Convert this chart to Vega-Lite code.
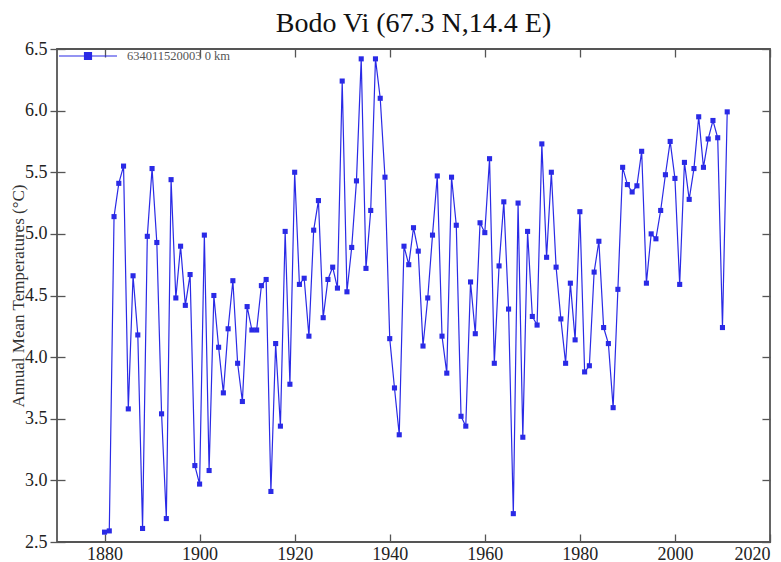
{
  "$schema": "https://vega.github.io/schema/vega-lite/v6.json",
  "width": 713,
  "height": 493,
  "autosize": "none",
  "padding": {"left": 57, "top": 49, "right": 11, "bottom": 20},
  "background": "white",
  "title": {"text": "Bodo Vi (67.3 N,14.4 E)", "font": "Liberation Serif", "fontSize": 28, "fontWeight": "normal", "color": "#111", "offset": -12},
  "config": {
    "view": {"stroke": "#555", "strokeWidth": 1.8},
    "axis": {"labelFont": "Liberation Serif", "titleFont": "Liberation Serif", "labelColor": "#222", "domain": false, "grid": false, "tickColor": "#555", "tickWidth": 1.3, "labelFontSize": 18}
  },
  "data": {"values": [
    {"year":1880,"temp":2.58},{"year":1881,"temp":2.59},{"year":1882,"temp":5.14},{"year":1883,"temp":5.41},{"year":1884,"temp":5.55},
    {"year":1885,"temp":3.58},{"year":1886,"temp":4.66},{"year":1887,"temp":4.18},{"year":1888,"temp":2.61},{"year":1889,"temp":4.98},
    {"year":1890,"temp":5.53},{"year":1891,"temp":4.93},{"year":1892,"temp":3.54},{"year":1893,"temp":2.69},{"year":1894,"temp":5.44},
    {"year":1895,"temp":4.48},{"year":1896,"temp":4.90},{"year":1897,"temp":4.42},{"year":1898,"temp":4.67},{"year":1899,"temp":3.12},
    {"year":1900,"temp":2.97},{"year":1901,"temp":4.99},{"year":1902,"temp":3.08},{"year":1903,"temp":4.50},{"year":1904,"temp":4.08},
    {"year":1905,"temp":3.71},{"year":1906,"temp":4.23},{"year":1907,"temp":4.62},{"year":1908,"temp":3.95},{"year":1909,"temp":3.64},
    {"year":1910,"temp":4.41},{"year":1911,"temp":4.22},{"year":1912,"temp":4.22},{"year":1913,"temp":4.58},{"year":1914,"temp":4.63},
    {"year":1915,"temp":2.91},{"year":1916,"temp":4.11},{"year":1917,"temp":3.44},{"year":1918,"temp":5.02},{"year":1919,"temp":3.78},
    {"year":1920,"temp":5.50},{"year":1921,"temp":4.59},{"year":1922,"temp":4.64},{"year":1923,"temp":4.17},{"year":1924,"temp":5.03},
    {"year":1925,"temp":5.27},{"year":1926,"temp":4.32},{"year":1927,"temp":4.63},{"year":1928,"temp":4.73},{"year":1929,"temp":4.56},
    {"year":1930,"temp":6.24},{"year":1931,"temp":4.53},{"year":1932,"temp":4.89},{"year":1933,"temp":5.43},{"year":1934,"temp":6.42},
    {"year":1935,"temp":4.72},{"year":1936,"temp":5.19},{"year":1937,"temp":6.42},{"year":1938,"temp":6.10},{"year":1939,"temp":5.46},
    {"year":1940,"temp":4.15},{"year":1941,"temp":3.75},{"year":1942,"temp":3.37},{"year":1943,"temp":4.90},{"year":1944,"temp":4.75},
    {"year":1945,"temp":5.05},{"year":1946,"temp":4.86},{"year":1947,"temp":4.09},{"year":1948,"temp":4.48},{"year":1949,"temp":4.99},
    {"year":1950,"temp":5.47},{"year":1951,"temp":4.17},{"year":1952,"temp":3.87},{"year":1953,"temp":5.46},{"year":1954,"temp":5.07},
    {"year":1955,"temp":3.52},{"year":1956,"temp":3.44},{"year":1957,"temp":4.61},{"year":1958,"temp":4.19},{"year":1959,"temp":5.09},
    {"year":1960,"temp":5.01},{"year":1961,"temp":5.61},{"year":1962,"temp":3.95},{"year":1963,"temp":4.74},{"year":1964,"temp":5.26},
    {"year":1965,"temp":4.39},{"year":1966,"temp":2.73},{"year":1967,"temp":5.25},{"year":1968,"temp":3.35},{"year":1969,"temp":5.02},
    {"year":1970,"temp":4.33},{"year":1971,"temp":4.26},{"year":1972,"temp":5.73},{"year":1973,"temp":4.81},{"year":1974,"temp":5.50},
    {"year":1975,"temp":4.73},{"year":1976,"temp":4.31},{"year":1977,"temp":3.95},{"year":1978,"temp":4.60},{"year":1979,"temp":4.14},
    {"year":1980,"temp":5.18},{"year":1981,"temp":3.88},{"year":1982,"temp":3.93},{"year":1983,"temp":4.69},{"year":1984,"temp":4.94},
    {"year":1985,"temp":4.24},{"year":1986,"temp":4.11},{"year":1987,"temp":3.59},{"year":1988,"temp":4.55},{"year":1989,"temp":5.54},
    {"year":1990,"temp":5.40},{"year":1991,"temp":5.34},{"year":1992,"temp":5.39},{"year":1993,"temp":5.67},{"year":1994,"temp":4.60},
    {"year":1995,"temp":5.00},{"year":1996,"temp":4.96},{"year":1997,"temp":5.19},{"year":1998,"temp":5.48},{"year":1999,"temp":5.75},
    {"year":2000,"temp":5.45},{"year":2001,"temp":4.59},{"year":2002,"temp":5.58},{"year":2003,"temp":5.28},{"year":2004,"temp":5.53},
    {"year":2005,"temp":5.95},{"year":2006,"temp":5.54},{"year":2007,"temp":5.77},{"year":2008,"temp":5.92},{"year":2009,"temp":5.78},
    {"year":2010,"temp":4.24},{"year":2011,"temp":5.99}
  ]},
  "layer": [
    {
      "mark": {"type": "line", "strokeWidth": 1.2, "point": {"shape": "square", "filled": true, "size": 26, "opacity": 1}},
      "encoding": {
        "x": {"field": "year", "type": "quantitative", "scale": {"domain": [1870, 2020], "nice": false, "zero": false},
              "axis": {"orient": "bottom", "values": [1880, 1900, 1920, 1940, 1960, 1980, 2000, 2020], "format": "d", "title": null, "offset": -8, "tickSize": 8, "labelPadding": 3}},
        "y": {"field": "temp", "type": "quantitative", "scale": {"domain": [2.5, 6.5], "nice": false, "zero": false},
              "axis": {"orient": "left", "values": [2.5, 3, 3.5, 4, 4.5, 5, 5.5, 6, 6.5], "format": ".1f", "title": "Annual Mean Temperatures (°C)", "titleFontSize": 17, "titleFontWeight": "normal", "titleColor": "#333", "titlePadding": -3, "offset": -8, "tickSize": 15, "labelPadding": 3}},
        "color": {"datum": "634011520003 0 km", "type": "nominal", "scale": {"range": ["#2a2ae6"]},
                  "legend": {"orient": "none", "legendX": 1, "legendY": -23, "title": null, "padding": 0,
                             "symbolType": "M-1,0L1,0M-0.12,-0.12L0.12,-0.12L0.12,0.12L-0.12,0.12Z",
                             "symbolSize": 3364, "symbolStrokeWidth": 1.2, "symbolFillColor": "#2a2ae6", "symbolStrokeColor": "#2a2ae6",
                             "labelFont": "Liberation Serif", "labelFontSize": 12.5, "labelColor": "#555", "labelOffset": 9}}
      }
    },
    {
      "mark": {"type": "line", "opacity": 0},
      "encoding": {
        "x": {"field": "year", "type": "quantitative", "scale": {"domain": [1870, 2020], "nice": false, "zero": false},
              "axis": {"orient": "top", "values": [1880, 1900, 1920, 1940, 1960, 1980, 2000, 2020], "labels": false, "title": null, "offset": -8, "tickSize": 8}},
        "y": {"field": "temp", "type": "quantitative", "scale": {"domain": [2.5, 6.5], "nice": false, "zero": false},
              "axis": {"orient": "right", "values": [2.5, 3, 3.5, 4, 4.5, 5, 5.5, 6, 6.5], "labels": false, "title": null, "offset": -8, "tickSize": 8}}
      }
    }
  ],
  "resolve": {"axis": {"x": "independent", "y": "independent"}}
}
